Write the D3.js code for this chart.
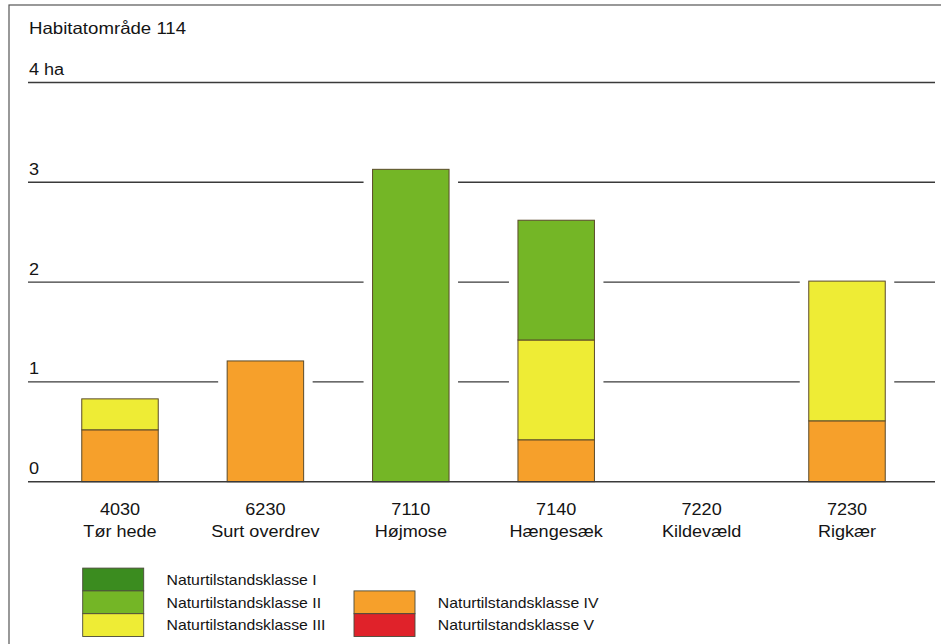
<!DOCTYPE html>
<html>
<head>
<meta charset="utf-8">
<script src="https://cdn.jsdelivr.net/npm/d3@7"></script>
<style>
    body { margin: 0; background: #fff; }
    svg text { font-family: "Liberation Sans", Arial, sans-serif; fill: #141414; }
</style>
</head>
<body>
<div id="chart"></div>
<script>

// habitat types (code + name)
let habitatCodes = ["4030", "6230", "7110", "7140", "7220", "7230"];
let habitatNames = ["Tør hede", "Surt overdrev", "Højmose", "Hængesæk", "Kildevæld", "Rigkær"];

// area in ha per nature condition class
let klasseI   = [0, 0, 0, 0, 0, 0];
let klasseII  = [0, 0, 3.13, 1.20, 0, 0];
let klasseIII = [0.31, 0, 0, 1.00, 0, 1.40];
let klasseIV  = [0.52, 1.21, 0, 0.42, 0, 0.61];
let klasseV   = [0, 0, 0, 0, 0, 0];

let yTickValues = [0, 1, 2, 3, 4];
let yTickLabels = ["0", "1", "2", "3", "4 ha"];

let classKeys = ["V", "IV", "III", "II", "I"];
let classLabels = {
    "I": "Naturtilstandsklasse I",
    "II": "Naturtilstandsklasse II",
    "III": "Naturtilstandsklasse III",
    "IV": "Naturtilstandsklasse IV",
    "V": "Naturtilstandsklasse V"
};
let classColors = {
    "I": "#3b8c1f",
    "II": "#74b626",
    "III": "#eeec35",
    "IV": "#f6a02b",
    "V": "#e0222a"
};

let titleText = "Habitatområde 114";

// text in the reference is a bit wider than Arial
const SX = 1.13;

class HabitatVis {

    constructor(_parentElement) {
        this.parentElement = _parentElement;
        this.initVis();
    }

    initVis() {
        let vis = this;

        vis.width = 941;
        vis.height = 644;

        vis.svg = d3.select("#" + vis.parentElement).append("svg")
            .attr("width", vis.width)
            .attr("height", vis.height);

        // frame
        vis.svg.append("rect")
            .attr("x", 9)
            .attr("y", 5)
            .attr("width", 960)
            .attr("height", 700)
            .attr("fill", "#fff")
            .attr("stroke", "#555")
            .attr("stroke-width", 1.2);

        vis.x = d3.scaleBand()
            .domain(habitatCodes)
            .range([47.3, 919.7])
            .paddingInner(0.474)
            .paddingOuter(0.237);

        vis.y = d3.scaleLinear()
            .domain([0, 4])
            .range([481.7, 82.5]);

        vis.wrangleData();
    }

    wrangleData() {
        let vis = this;

        vis.table = habitatCodes.map(function(code, i) {
            return {
                code: code,
                name: habitatNames[i],
                "I": klasseI[i],
                "II": klasseII[i],
                "III": klasseIII[i],
                "IV": klasseIV[i],
                "V": klasseV[i]
            };
        });

        vis.stacked = d3.stack().keys(classKeys)(vis.table);

        vis.totals = vis.table.map(function(d) {
            return d3.sum(classKeys, function(k) { return d[k]; });
        });

        vis.updateVis();
    }

    text(g, x, y, str, size, anchor) {
        return g.append("text")
            .attr("transform", "translate(" + x + "," + y + ") scale(" + SX + ",1)")
            .attr("font-size", size)
            .attr("text-anchor", anchor || "start")
            .text(str);
    }

    updateVis() {
        let vis = this;

        vis.text(vis.svg, 29, 34, titleText, 16.5);

        // grid lines (baseline drawn later)
        vis.svg.selectAll(".grid")
            .data(yTickValues.filter(function(v) { return v > 0; }))
            .enter().append("line")
            .attr("class", "grid")
            .attr("x1", 28)
            .attr("x2", 935)
            .attr("y1", function(d) { return vis.y(d); })
            .attr("y2", function(d) { return vis.y(d); })
            .attr("stroke", "#3a3a3a")
            .attr("stroke-width", 1.4);

        // white space around bars hides the grid lines
        vis.svg.selectAll(".mask")
            .data(vis.table.filter(function(d, i) { return vis.totals[i] > 0; }))
            .enter().append("rect")
            .attr("class", "mask")
            .attr("x", function(d) { return vis.x(d.code) - 9; })
            .attr("width", vis.x.bandwidth() + 18)
            .attr("y", function(d) { return vis.y(vis.totals[habitatCodes.indexOf(d.code)]) - 4; })
            .attr("height", function(d) {
                return vis.y(0) - vis.y(vis.totals[habitatCodes.indexOf(d.code)]) + 4;
            })
            .attr("fill", "#fff");

        let layers = vis.svg.selectAll(".layer")
            .data(vis.stacked)
            .enter().append("g")
            .attr("class", "layer")
            .attr("fill", function(d) { return classColors[d.key]; });

        layers.selectAll("rect")
            .data(function(d) { return d.filter(function(s) { return s[1] - s[0] > 0; }); })
            .enter().append("rect")
            .attr("x", function(d) { return vis.x(d.data.code); })
            .attr("width", vis.x.bandwidth())
            .attr("y", function(d) { return vis.y(d[1]); })
            .attr("height", function(d) { return vis.y(d[0]) - vis.y(d[1]); })
            .attr("stroke", "#5a4a2a")
            .attr("stroke-width", 1);

        // baseline
        vis.svg.append("line")
            .attr("x1", 28)
            .attr("x2", 935)
            .attr("y1", vis.y(0))
            .attr("y2", vis.y(0))
            .attr("stroke", "#3a3a3a")
            .attr("stroke-width", 1.4);

        // y tick labels sit above their line
        yTickValues.forEach(function(v, i) {
            vis.text(vis.svg, 29, vis.y(v) - 7.5, yTickLabels[i], 16);
        });

        // category labels
        vis.table.forEach(function(d) {
            let cx = vis.x(d.code) + vis.x.bandwidth() / 2;
            vis.text(vis.svg, cx, 515, d.code, 16, "middle");
            vis.text(vis.svg, cx, 537, d.name, 16, "middle");
        });

        // legend: two columns, bottom aligned
        let columns = [["I", "II", "III"], ["IV", "V"]];
        let colX = [82.7, 354];
        let rowH = 22.8;
        let legendBottom = 636.5;

        columns.forEach(function(keys, c) {
            let top = legendBottom - keys.length * rowH;
            let g = vis.svg.append("g").attr("class", "legend");

            g.selectAll("rect")
                .data(keys)
                .enter().append("rect")
                .attr("x", colX[c])
                .attr("y", function(k, i) { return top + i * rowH; })
                .attr("width", 61)
                .attr("height", rowH)
                .attr("fill", function(k) { return classColors[k]; })
                .attr("stroke", "#4a4a3a")
                .attr("stroke-width", 0.9);

            keys.forEach(function(k, i) {
                vis.text(g, colX[c] + 83.8, top + i * rowH + rowH / 2 + 5.2, classLabels[k], 14);
            });
        });
    }
}

let habitatVis = new HabitatVis("chart");

</script>
</body>
</html>
